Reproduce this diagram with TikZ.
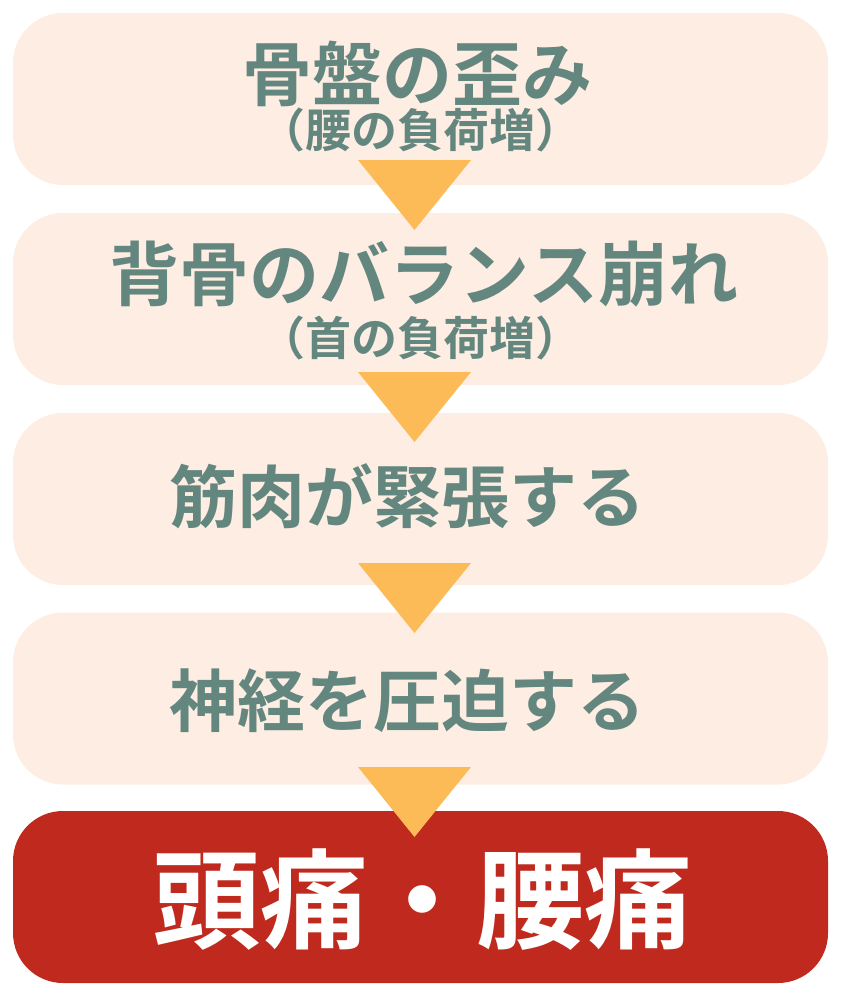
\documentclass[tikz,border=0pt]{standalone}
\usepackage{fontspec}
\newfontfamily\jpfont{Noto Sans CJK JP}[BoldFont={Noto Sans CJK JP Bold}]
\usetikzlibrary{calc}
\usetikzlibrary{positioning}

\definecolor{stepfill}{HTML}{FDEDE3}
\definecolor{steptext}{HTML}{63877F}
\definecolor{arrowfill}{HTML}{FDBB58}
\definecolor{endfill}{HTML}{C0291E}

\tikzset{
  stepbox/.style={fill=stepfill,rounded corners=50pt,minimum width=815pt,minimum height=172pt,inner sep=0pt},
  endbox/.style={stepbox,fill=endfill},
  steplab/.style={text=steptext,font=\jpfont\bfseries\fontsize{70}{70}\selectfont,inner sep=0pt},
  sublab/.style={text=steptext,font=\jpfont\bfseries\fontsize{46}{46}\selectfont,inner sep=0pt},
  endlab/.style={text=white,font=\jpfont\bfseries\fontsize{108}{108}\selectfont,inner sep=0pt},
  downtri/.style={fill=arrowfill}
}

\begin{document}
\begin{tikzpicture}[x=1pt,y=-1pt]

  \useasboundingbox (0,0) rectangle (841,993);

  % boxes
  \node [stepbox] (S1) at (420.5,99)  {};
  \node [stepbox] (S2) at (420.5,299) {};
  \node [stepbox] (S3) at (420.5,499) {};
  \node [stepbox] (S4) at (420.5,698.5) {};
  \node [endbox]  (E)  at (420.5,897) {};

  % texts
  \node [steplab] (S1_t) at (417.5,74)  {骨盤の歪み};
  \node [sublab]  (S1_s) at (420,130) {（腰の負荷増）};
  \node [steplab] (S2_t) at (424,274)   {背骨のバランス崩れ};
  \node [sublab]  (S2_s) at (420,338) {（首の負荷増）};
  \node [steplab,font=\jpfont\bfseries\fontsize{68}{68}\selectfont] (S3_t) at (407,496) {筋肉が緊張する};
  \node [steplab,font=\jpfont\bfseries\fontsize{68}{68}\selectfont] (S4_t) at (407,701) {神経を圧迫する};
  \node [endlab]  (E_t)  at (422.5,900) {頭痛・腰痛};

  % arrows between the boxes
  \foreach \top/\name in {160/T1,372/T2,563/T3,767/T4} {
    \coordinate (\name_l) at (358,\top);
    \coordinate (\name_r) at (471,\top);
    \coordinate (\name_b) at (414.5,\top+70);
    \fill [downtri] (\name_l) -- (\name_r) -- (\name_b) -- cycle;
  }

\end{tikzpicture}
\end{document}
